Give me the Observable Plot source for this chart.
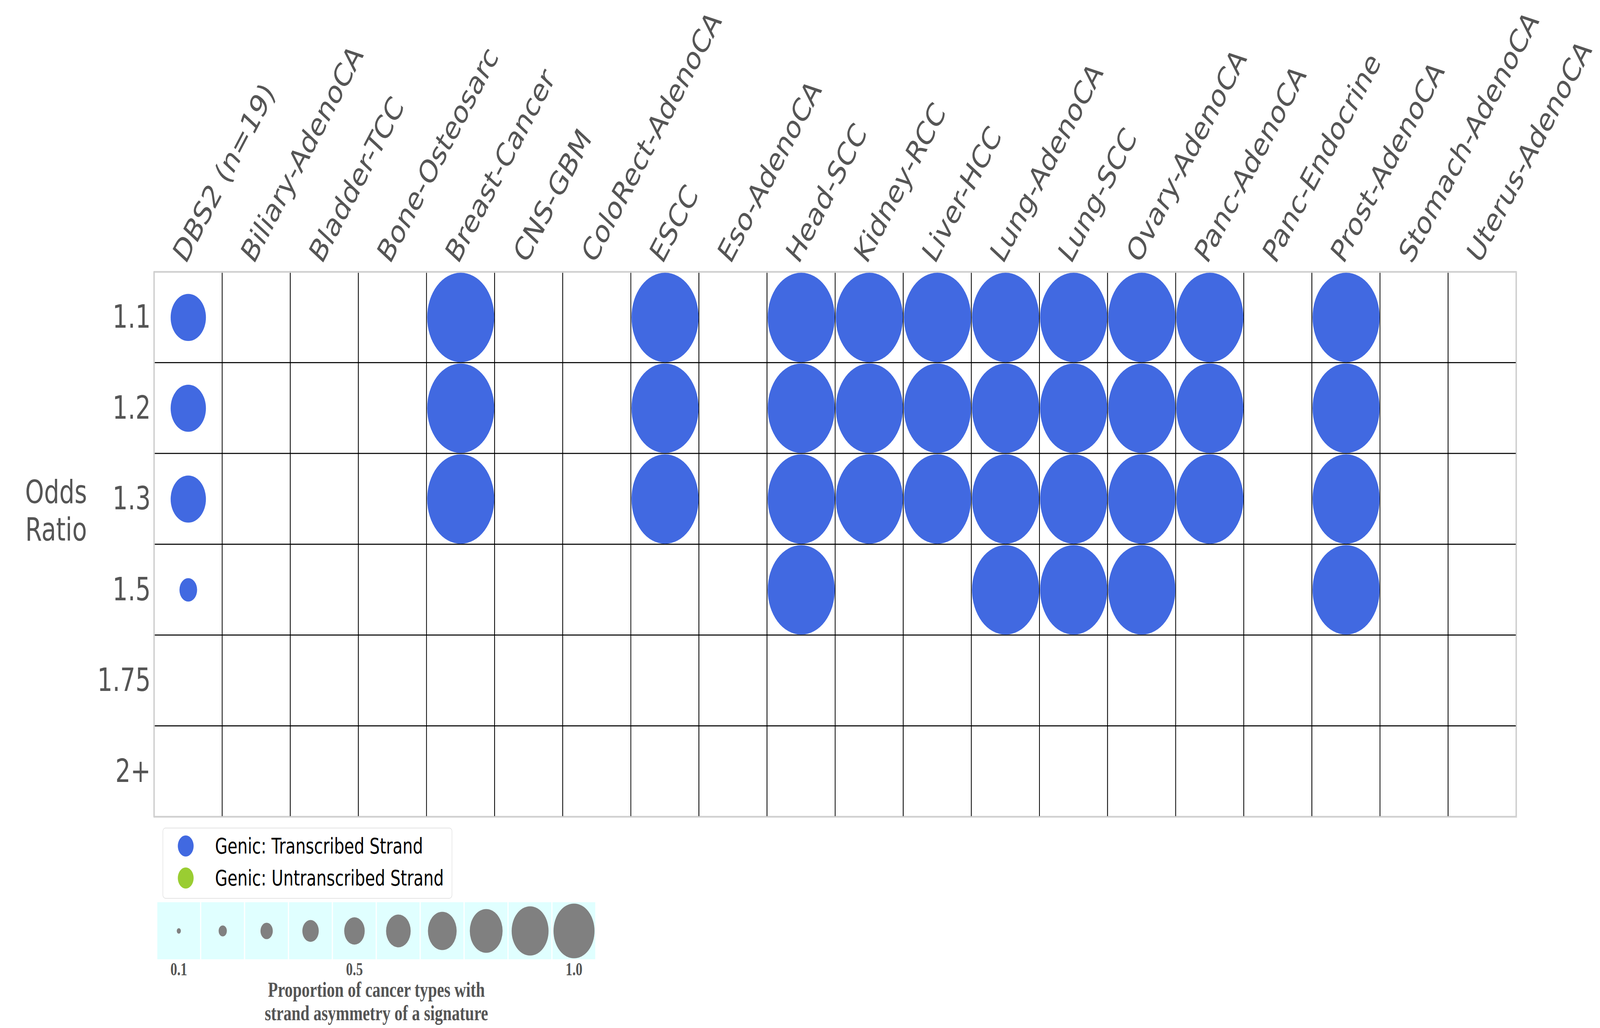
<!DOCTYPE html>
<html>
<head>
<meta charset="utf-8">
<script src="https://cdn.jsdelivr.net/npm/d3@7"></script>
<script src="https://cdn.jsdelivr.net/npm/@observablehq/plot@0.6"></script>
<style>
  html, body { margin: 0; padding: 0; background: white; overflow: hidden; }
  #wrap { position: relative; overflow: hidden; background: white; }
  #page { position: absolute; left: 0; top: 0; width: 5462px; height: 2632px; background: white; overflow: hidden; transform-origin: 0 0; }
  #main { position: absolute; left: 0; top: 0; }
  #sizeLegend { position: absolute; left: 0; top: 2290px; }
  #colorLegend { position: absolute; left: 555px; top: 2119px; width: 985px; height: 178px;
    border: 2px solid #e3e3e3; border-radius: 10px; box-sizing: content-box;
    font-family: "DejaVu Sans", sans-serif; font-size: 55px; color: black; }
  .item { position: absolute; left: 0; height: 60px; display: flex; align-items: center; }
  .swatch { position: absolute; left: 50px; width: 54px; height: 54px; border-radius: 50%; }
  .label { position: absolute; left: 177px; white-space: nowrap; }
</style>
</head>
<body>
<div id="wrap">
<div id="page">
  <div id="main"></div>
  <div id="colorLegend"></div>
  <div id="sizeLegend"></div>
</div>
</div>
<script>
// ---- data ----
const columns = ["DBS2 (n=19)", "Biliary-AdenoCA", "Bladder-TCC", "Bone-Osteosarc", "Breast-Cancer",
  "CNS-GBM", "ColoRect-AdenoCA", "ESCC", "Eso-AdenoCA", "Head-SCC", "Kidney-RCC", "Liver-HCC",
  "Lung-AdenoCA", "Lung-SCC", "Ovary-AdenoCA", "Panc-AdenoCA", "Panc-Endocrine", "Prost-AdenoCA",
  "Stomach-AdenoCA", "Uterus-AdenoCA"];
const rows = ["1.1", "1.2", "1.3", "1.5", "1.75", "2+"];
const typesAt1_1 = ["Breast-Cancer", "ESCC", "Head-SCC", "Kidney-RCC", "Liver-HCC", "Lung-AdenoCA", "Lung-SCC", "Ovary-AdenoCA", "Panc-AdenoCA", "Prost-AdenoCA"];
const typesAt1_2 = ["Breast-Cancer", "ESCC", "Head-SCC", "Kidney-RCC", "Liver-HCC", "Lung-AdenoCA", "Lung-SCC", "Ovary-AdenoCA", "Panc-AdenoCA", "Prost-AdenoCA"];
const typesAt1_3 = ["Breast-Cancer", "ESCC", "Head-SCC", "Kidney-RCC", "Liver-HCC", "Lung-AdenoCA", "Lung-SCC", "Ovary-AdenoCA", "Panc-AdenoCA", "Prost-AdenoCA"];
const typesAt1_5 = ["Head-SCC", "Lung-AdenoCA", "Lung-SCC", "Ovary-AdenoCA", "Prost-AdenoCA"];
const typesAt1_75 = [];
const typesAt2plus = [];
const cancerTypeProportion = 1.0;
const signatureProportion = [0.526, 0.526, 0.526, 0.263, 0, 0];
const legendLabels = ["Genic: Transcribed Strand", "Genic: Untranscribed Strand"];
const legendColors = ["#4169e1", "#9acd32"];
const sizeValues = [0.1, 0.2, 0.3, 0.4, 0.5, 0.6, 0.7, 0.8, 0.9, 1.0];
const sizeTicks = [0.1, 0.5, 1.0];
const sizeTitle = "Proportion of cancer types with\nstrand asymmetry of a signature";

// ---- fit the 5462x2632 layout to the actual window ----
const page = document.getElementById("page");
const wrap = document.getElementById("wrap");
const sx = (window.innerWidth / 5462) || 1;
const sy = (window.innerHeight / 2632) || 1;
page.style.transform = `scale(${sx}, ${sy})`;
wrap.style.width = (5462 * sx) + "px";
wrap.style.height = (2632 * sy) + "px";

// ---- tables ----
const typesByRow = [typesAt1_1, typesAt1_2, typesAt1_3, typesAt1_5, typesAt1_75, typesAt2plus];
const grid = [];
for (const r of rows) for (const c of columns) grid.push({col: c, row: r});
const points = [];
rows.forEach((r, i) => {
  if (signatureProportion[i] > 0) points.push({col: columns[0], row: r, v: signatureProportion[i]});
  for (const t of typesByRow[i]) points.push({col: t, row: r, v: cancerTypeProportion});
});

// ---- main chart ----
const main = Plot.plot({
  width: 5462, height: 2101,
  marginLeft: 526, marginRight: 286, marginTop: 696, marginBottom: 10,
  style: {fontFamily: "DejaVu Sans", background: "white", color: "#555", overflow: "visible"},
  x: {type: "band", domain: columns, padding: 0, round: false, axis: null},
  y: {type: "band", domain: rows, padding: 0, round: false, axis: null},
  r: {type: "linear", domain: [0, 1], range: [0, 114.5]},
  marks: [
    Plot.cell(grid, {x: "col", y: "row", fill: "white", stroke: "black", strokeWidth: 2.5}),
    Plot.frame({stroke: "#d3d3d3", strokeWidth: 4}),
    Plot.dot(points, {x: "col", y: "row", r: "v", fill: legendColors[0]}),
    Plot.axisY({anchor: "left", label: null, tickSize: 0, tickPadding: 12, fontSize: 82, color: "#555"}),
    Plot.text(columns, {x: d => d, text: d => d, frameAnchor: "top", rotate: -55, textAnchor: "start",
      lineAnchor: "bottom", dx: -9, dy: -18, fontSize: 82, fill: "#555"}),
    Plot.text(["Odds\nRatio"], {y: () => rows[2], text: d => d, frameAnchor: "left", dx: -335, dy: 28,
      lineAnchor: "middle", textAnchor: "middle", lineHeight: 1.17, fontSize: 82, fill: "#555"})
  ]
});
document.getElementById("main").appendChild(main);

// ---- color legend ----
const cl = document.getElementById("colorLegend");
legendLabels.forEach((lab, i) => {
  const it = document.createElement("div");
  it.className = "item";
  it.style.top = (15 + i * 82) + "px";
  it.style.width = "100%";
  const sw = document.createElement("div");
  sw.className = "swatch";
  sw.style.background = legendColors[i];
  sw.style.top = "3px";
  const tx = document.createElement("div");
  tx.className = "label";
  tx.textContent = lab;
  it.appendChild(sw); it.appendChild(tx);
  cl.appendChild(it);
});

// ---- size legend ----
const sizeLegend = Plot.plot({
  width: 2100, height: 342,
  marginLeft: 535, marginRight: 66, marginTop: 20, marginBottom: 176,
  style: {fontFamily: "Liberation Serif", background: "transparent", color: "#555", overflow: "visible"},
  x: {type: "band", domain: sizeValues, padding: 0, round: false, axis: null},
  r: {type: "linear", domain: [0, 1], range: [0, 70]},
  marks: [
    Plot.cell(sizeValues, {x: d => d, fill: "#e0ffff", insetLeft: 2, insetRight: 2}),
    Plot.dot(sizeValues, {x: d => d, r: d => d, fill: "gray"}),
    Plot.text(sizeTicks, {x: d => d, text: d => d.toFixed(1), frameAnchor: "bottom", dy: 26,
      lineAnchor: "middle", fontSize: 46, fontWeight: "bold", fill: "#555"}),
    Plot.text([sizeTitle], {text: d => d, frameAnchor: "bottom", dy: 106, lineAnchor: "middle",
      fontSize: 55, fontWeight: "bold", lineHeight: 1.1, fill: "#555"})
  ]
});
document.getElementById("sizeLegend").appendChild(sizeLegend);
</script>
</body>
</html>
